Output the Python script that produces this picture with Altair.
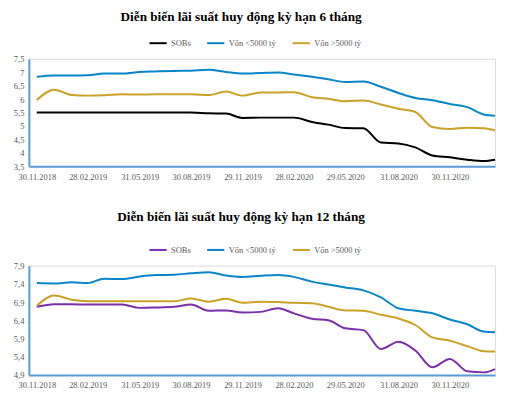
import altair as alt
import pandas as pd

dates = ["2018-11-30", "2018-12-31", "2019-01-31", "2019-02-28", "2019-03-29", "2019-04-30",
         "2019-05-31", "2019-06-28", "2019-07-31", "2019-08-30", "2019-09-30", "2019-10-31",
         "2019-11-29", "2019-12-31", "2020-01-31", "2020-02-28", "2020-03-31", "2020-04-29",
         "2020-05-29", "2020-06-30", "2020-07-31", "2020-08-31", "2020-09-30", "2020-10-30",
         "2020-11-30", "2020-12-31", "2021-01-29", "2021-02-18"]

series = ["SOBs", "Vốn <5000 tỷ", "Vốn >5000 tỷ"]

# 6-month term
sobs_6 = [5.50, 5.50, 5.50, 5.50, 5.50, 5.50, 5.50, 5.50, 5.50, 5.50, 5.47, 5.46, 5.30, 5.31,
          5.31, 5.31, 5.15, 5.05, 4.92, 4.91, 4.38, 4.35, 4.20, 3.90, 3.83, 3.74, 3.69, 3.74]
small_6 = [6.83, 6.88, 6.88, 6.89, 6.95, 6.95, 7.01, 7.03, 7.05, 7.06, 7.09, 7.01, 6.95, 6.97,
           6.99, 6.92, 6.83, 6.74, 6.64, 6.66, 6.46, 6.23, 6.04, 5.96, 5.82, 5.70, 5.43, 5.38]
large_6 = [5.97, 6.35, 6.15, 6.13, 6.14, 6.18, 6.17, 6.18, 6.18, 6.18, 6.15, 6.28, 6.13, 6.25,
           6.25, 6.26, 6.07, 6.01, 5.92, 5.95, 5.80, 5.64, 5.52, 4.96, 4.89, 4.93, 4.91, 4.83]

# 12-month term
sobs_12 = [6.77, 6.84, 6.84, 6.83, 6.83, 6.83, 6.74, 6.75, 6.77, 6.83, 6.66, 6.67, 6.61, 6.63,
           6.73, 6.59, 6.44, 6.40, 6.18, 6.13, 5.61, 5.81, 5.57, 5.11, 5.34, 5.00, 4.97, 5.06]
small_12 = [7.42, 7.41, 7.44, 7.42, 7.54, 7.53, 7.60, 7.64, 7.65, 7.69, 7.72, 7.63, 7.59, 7.62,
            7.64, 7.59, 7.46, 7.38, 7.30, 7.22, 7.03, 6.73, 6.66, 6.59, 6.42, 6.29, 6.09, 6.07]
large_12 = [6.80, 7.08, 6.96, 6.92, 6.92, 6.92, 6.92, 6.92, 6.92, 7.00, 6.91, 6.99, 6.88, 6.91,
            6.90, 6.88, 6.87, 6.77, 6.67, 6.66, 6.55, 6.45, 6.27, 5.93, 5.84, 5.69, 5.55, 5.54]

tick_dates = [(2018, 11, 30), (2019, 2, 28), (2019, 5, 31), (2019, 8, 30), (2019, 11, 29),
              (2020, 2, 28), (2020, 5, 29), (2020, 8, 31), (2020, 11, 30)]

y_ticks_6 = [3.5, 4, 4.5, 5, 5.5, 6, 6.5, 7, 7.5]
y_ticks_12 = [4.9, 5.4, 5.9, 6.4, 6.9, 7.4, 7.9]

title_6 = "Diễn biến lãi suất huy động kỳ hạn 6 tháng"
title_12 = "Diễn biến lãi suất huy động kỳ hạn 12 tháng"


def frame(a, b, c):
    rows = []
    for name, vals in zip(series, [a, b, c]):
        for d, v in zip(dates, vals):
            rows.append({"date": d, "series": name, "value": v})
    return pd.DataFrame(rows)


AXIS_BLUE = "#5B9BD5"
LABEL_GREY = "#595959"


def panel(df, colors, ydom, yticks, title, height, title_offset):
    return alt.Chart(df).mark_line(strokeWidth=2, interpolate="monotone").encode(
        x=alt.X("date:T",
                scale=alt.Scale(type="utc", domain=[alt.DateTime(year=2018, month=11, date=16, utc=True),
                                                    alt.DateTime(year=2021, month=2, date=18, utc=True)]),
                axis=alt.Axis(title=None, grid=False, ticks=False,
                              values=[alt.DateTime(year=y, month=m, date=d, utc=True) for y, m, d in tick_dates],
                              labelExpr="utcFormat(datum.value, '%d.%m.%Y')",
                              labelFont="Liberation Serif", labelFontSize=8.5, labelColor=LABEL_GREY,
                              labelPadding=6, domainColor=AXIS_BLUE, domainWidth=2)),
        y=alt.Y("value:Q", scale=alt.Scale(domain=ydom, nice=False, zero=False),
                axis=alt.Axis(title=None, grid=False, ticks=False, values=yticks,
                              labelExpr="replace(toString(datum.value), '.', ',')",
                              labelFont="Liberation Serif", labelFontSize=8.5, labelColor=LABEL_GREY,
                              labelPadding=5, domainColor=AXIS_BLUE, domainWidth=2)),
        color=alt.Color("series:N", scale=alt.Scale(domain=series, range=colors),
                        legend=alt.Legend(title=None, orient="none", direction="horizontal",
                                          legendX=120, legendY=-26,
                                          symbolType="stroke", symbolSize=300, symbolStrokeWidth=2,
                                          labelFont="Liberation Serif", labelFontSize=8.5,
                                          labelColor=LABEL_GREY, columnPadding=12, labelOffset=3)),
    ).properties(
        width=469, height=height,
        title=alt.TitleParams(title, font="Liberation Serif", fontSize=13.3, fontWeight="bold",
                              color="#000000", anchor="middle", dx=-21, offset=title_offset),
    )


c6 = panel(frame(sobs_6, small_6, large_6), ["#000000", "#0A86C8", "#C9A227"],
           [3.5, 7.5], y_ticks_6, title_6, 108, 10)
c12 = panel(frame(sobs_12, small_12, large_12), ["#7B2FA8", "#0A86C8", "#C9A227"],
            [4.9, 7.9], y_ticks_12, title_12, 110, 17)

chart = alt.vconcat(c6, c12, spacing=28).resolve_scale(color="independent").properties(
    padding={"left": 4, "top": 0, "right": 0, "bottom": 0}
).configure_view(stroke=None).configure(background="white")

chart.save("out.html", embed_options={"renderer": "svg", "actions": False})
